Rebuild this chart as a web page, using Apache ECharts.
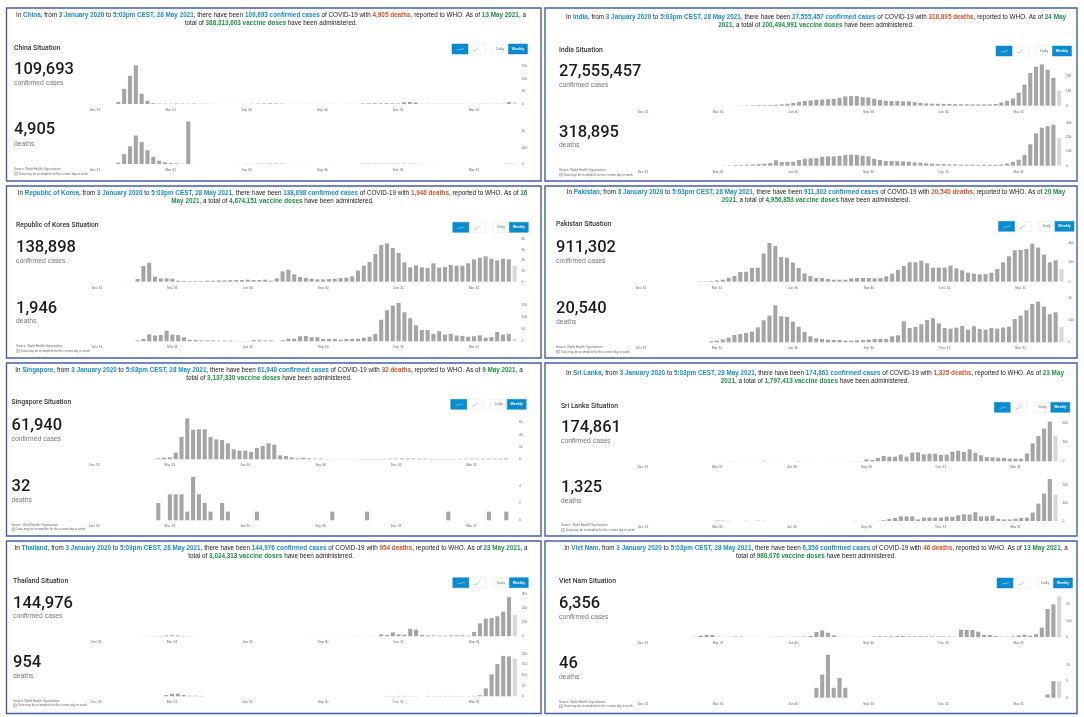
<!DOCTYPE html>
<html>
<head>
<meta charset="utf-8">
<title>COVID-19 situation by country</title>
<script src="https://cdn.jsdelivr.net/npm/echarts@6/dist/echarts.min.js"></script>
<style>
html, body { margin: 0; padding: 0; background: #fff; }
#main { width: 1084px; height: 717px; }
</style>
</head>
<body>
<div id="main"></div>
<script>
// x axis labels, one every 13 weeks
var quarterLabels = ['Dec 31', 'Mar 31', 'Jun 30', 'Sep 30', 'Dec 31', 'Mar 31'];
var weekCount = 73;

// weekly values. lists end at the last week, the weeks
// before the first entry had nothing reported
var chinaCases = [800, 6100, 11300, 15500, 4100, 1300, 300, 150, 150, 100, 200, 150, 120, 150, 100, 80, 50, 30, 20, 20, 30, 40, 50, 100, 150, 200, 250, 200, 150, 60, 50, 40, 50, 60, 50, 40, 50, 60, 50, 40, 50, 60, 200, 250, 300, 250, 300, 250, 200, 700, 800, 600, 100, 100, 90, 80, 100, 100, 90, 80, 60, 60, 80, 100, 100, 100, 120, 800, 600];
var chinaDeaths = [40, 300, 540, 870, 670, 420, 220, 100, 50, 30, 20, 10, 1300, 2, 0, 1, 0, 0, 0, 1, 1, 2, 5, 5, 8, 10, 15, 15, 10, 3, 2, 2, 2, 1, 1, 1, 1, 1, 1, 1, 1, 1, 10, 10, 10, 10, 10, 10, 10, 10, 10, 10, 2, 2, 2, 1, 1, 1, 1, 1, 1, 1, 1, 1, 1, 1, 1, 10, 15];
var indiaCases = [1000, 2000, 5000, 8000, 12000, 20000, 30000, 45000, 45000, 50000, 65000, 90000, 130000, 180000, 260000, 310000, 350000, 400000, 420000, 440000, 460000, 530000, 620000, 640000, 640000, 570000, 550000, 460000, 375000, 330000, 310000, 310000, 290000, 285000, 240000, 200000, 155000, 135000, 130000, 120000, 110000, 105000, 100000, 95000, 85000, 85000, 85000, 90000, 115000, 220000, 330000, 480000, 860000, 1410000, 2180000, 2600000, 2750000, 2400000, 1850000, 1000000];
var indiaDeaths = [120, 234, 470, 585, 700, 940, 1170, 1400, 1870, 3740, 2570, 2800, 2800, 3980, 4900, 5150, 5380, 6320, 6550, 6550, 6790, 7490, 7720, 7490, 7020, 6550, 4900, 3980, 3280, 3280, 3280, 3040, 2800, 2340, 2100, 1640, 1400, 1170, 1170, 940, 940, 700, 700, 700, 700, 700, 700, 700, 900, 1600, 2600, 4200, 7500, 15000, 22700, 26700, 27800, 28800, 19400];
var koreaCases = [10, 10, 10, 500, 2940, 3560, 940, 625, 625, 560, 190, 125, 125, 125, 125, 190, 190, 250, 250, 310, 310, 310, 375, 310, 310, 375, 190, 625, 1940, 2250, 1375, 875, 690, 560, 440, 440, 500, 560, 690, 750, 1000, 2060, 3000, 3690, 5190, 6880, 7190, 6310, 5380, 3630, 2690, 3060, 2690, 2560, 3440, 2630, 2750, 3130, 3000, 3000, 3440, 4190, 4500, 4750, 4310, 4000, 4310, 4190, 2940];
var koreaDeaths = [4, 10, 29, 24, 26, 44, 28, 26, 17, 6, 6, 4, 4, 4, 3, 3, 3, 1, 1, 1, 5, 5, 4, 4, 0, 4, 11, 11, 21, 22, 17, 17, 10, 10, 10, 7, 10, 10, 11, 15, 19, 31, 90, 129, 149, 160, 121, 96, 67, 47, 47, 31, 42, 28, 31, 24, 22, 19, 21, 25, 15, 18, 39, 28, 31, 10];
var pakistanCases = [345, 345, 690, 1380, 2070, 4140, 5870, 10000, 10350, 14150, 14500, 29000, 40000, 36900, 25500, 24800, 19700, 14150, 8600, 5870, 3800, 3800, 2760, 2070, 2070, 2070, 3450, 3800, 3800, 3800, 3450, 3800, 5500, 8300, 12100, 16200, 20000, 20000, 21700, 19000, 14500, 14500, 14500, 16600, 13800, 11700, 9300, 8300, 7600, 7900, 9300, 13100, 20000, 26200, 32400, 32800, 33800, 39300, 35200, 27900, 20000, 22100, 13100];
var pakistanDeaths = [23, 38, 68, 106, 167, 190, 212, 243, 341, 500, 606, 841, 591, 576, 470, 356, 235, 136, 91, 76, 61, 53, 53, 38, 38, 45, 53, 61, 76, 76, 76, 136, 159, 478, 326, 349, 409, 508, 546, 432, 326, 311, 334, 371, 288, 364, 303, 288, 326, 311, 334, 356, 531, 606, 728, 872, 925, 811, 637, 682, 349];
var singaporeCases = [160, 270, 320, 1080, 3620, 6640, 4800, 4860, 4860, 3620, 3240, 3130, 2590, 1620, 1400, 1400, 1190, 1840, 2160, 2590, 2380, 650, 540, 320, 160, 270, 160, 110, 110, 50, 40, 30, 30, 30, 40, 50, 50, 60, 60, 70, 100, 110, 130, 130, 140, 120, 110, 70, 50, 50, 60, 60, 70, 100, 110, 110, 110, 110, 100, 110, 140, 0];
var singaporeDeaths = [2, 0, 3, 3, 3, 1, 5, 3, 2, 1, 0, 2, 1, 0, 0, 0, 0, 1, 0, 0, 0, 0, 0, 0, 0, 0, 0, 0, 0, 0, 1, 0, 0, 0, 0, 0, 1, 0, 0, 0, 0, 0, 0, 0, 0, 0, 0, 0, 0, 0, 1, 0, 0, 0, 0, 0, 0, 1, 0, 0, 1, 0];
var sriLankaCases = [5, 10, 20, 30, 60, 50, 60, 40, 30, 40, 60, 250, 60, 40, 30, 20, 20, 150, 30, 20, 20, 20, 20, 30, 20, 30, 50, 80, 100, 1030, 690, 1700, 2750, 2400, 2400, 3440, 2400, 4470, 4640, 3600, 3960, 3960, 3270, 3440, 5000, 5500, 4800, 6200, 4300, 3100, 2200, 2060, 1900, 1700, 1400, 1400, 1400, 4000, 9300, 13200, 17000, 20600, 13400];
var sriLankaDeaths = [3, 2, 1, 0, 0, 1, 0, 2, 1, 0, 0, 0, 0, 0, 0, 0, 0, 0, 0, 0, 1, 0, 0, 0, 1, 0, 0, 0, 1, 4, 11, 17, 26, 26, 26, 9, 19, 19, 19, 19, 24, 24, 32, 37, 36, 49, 26, 26, 30, 13, 9, 9, 13, 17, 19, 47, 97, 153, 234, 146];
var thailandCases = [50, 100, 150, 300, 600, 700, 600, 300, 100, 50, 30, 20, 20, 10, 10, 10, 10, 20, 20, 20, 30, 30, 20, 20, 20, 20, 20, 30, 40, 40, 40, 40, 50, 50, 50, 60, 60, 70, 70, 80, 100, 1400, 940, 2830, 1400, 1180, 5400, 4700, 940, 700, 700, 470, 470, 700, 700, 700, 470, 3070, 9200, 12500, 13000, 14200, 17500, 27800, 15100];
var thailandDeaths = [6, 12, 12, 6, 3, 3, 2, 0, 0, 0, 0, 0, 0, 0, 0, 0, 0, 0, 0, 0, 0, 0, 0, 0, 0, 0, 0, 0, 0, 0, 0, 0, 0, 0, 0, 0, 0, 0, 2, 1, 2, 2, 1, 1, 0, 2, 1, 1, 2, 2, 1, 1, 1, 2, 5, 37, 103, 151, 189, 187, 176];
var vietnamCases = [10, 40, 60, 60, 10, 5, 5, 15, 15, 5, 5, 2, 2, 5, 8, 8, 5, 5, 10, 15, 30, 153, 204, 133, 51, 10, 5, 5, 5, 5, 5, 20, 20, 20, 20, 30, 30, 20, 20, 20, 20, 20, 20, 15, 15, 10, 224, 214, 214, 163, 61, 61, 31, 10, 10, 20, 51, 71, 41, 82, 286, 857, 1000, 1244];
var vietnamDeaths = [3, 7, 13, 3, 6, 3, 0, 0, 0, 0, 0, 0, 0, 0, 0, 0, 0, 0, 0, 0, 0, 0, 0, 0, 0, 0, 0, 0, 0, 0, 0, 0, 0, 0, 0, 0, 0, 0, 0, 0, 1, 5, 5];

// y axis: tick step and the top of the scale
var caseSteps = [5000, 1000000, 2000, 20000, 2000, 10000, 10000, 500];
var caseMax = [16000, 2800000, 8000, 40000, 6800, 21000, 30000, 1250];
var deathSteps = [500, 10000, 50, 500, 2, 100, 50, 5];
var deathMax = [1300, 30000, 160, 1000, 5, 234, 200, 13];

var names = ['China', 'India', 'Republic of Korea', 'Pakistan', 'Singapore', 'Sri Lanka', 'Thailand', 'Viet Nam'];
var caseTotals = ['109,693', '27,555,457', '138,898', '911,302', '61,940', '174,861', '144,976', '6,356'];
var deathTotals = ['4,905', '318,895', '1,946', '20,540', '32', '1,325', '954', '46'];
var doseTotals = ['388,313,603', '200,494,991', '4,674,151', '4,956,853', '3,137,330', '1,797,413', '3,024,313', '980,076'];
var doseDates = ['13 May 2021', '24 May 2021', '16 May 2021', '20 May 2021', '9 May 2021', '23 May 2021', '23 May 2021', '13 May 2021'];
// how the date falls over the line end in the sentence at the top
var dateBreaks = [3, 2, 1, 2, 3, 2, 3, 3];
var caseSeries = [chinaCases, indiaCases, koreaCases, pakistanCases, singaporeCases, sriLankaCases, thailandCases, vietnamCases];
var deathSeries = [chinaDeaths, indiaDeaths, koreaDeaths, pakistanDeaths, singaporeDeaths, sriLankaDeaths, thailandDeaths, vietnamDeaths];

// page positions of each panel, in pixels
var layout = [
    { box: [6.5, 8, 534.5, 173], x0: 95, week: 5.83, caseBase: 104, caseTop: 64, deathBase: 164, deathTop: 121.4, headX: 271, head: [15, 23], textX: 14, title: 48, num: 70, lab: 83, dnum: 130, dlab: 144, src: 169, btn: [452, 44] },
    { box: [545, 8, 532, 173], x0: 643, week: 5.78, caseBase: 105.7, caseTop: 63.7, deathBase: 165.7, deathTop: 123, headX: 816, head: [17.5, 25.5], textX: 559, title: 50, num: 72, lab: 85, dnum: 133, dlab: 145, src: 170, btn: [996, 46] },
    { box: [6.5, 186, 534.5, 172], x0: 97, week: 5.8, caseBase: 281.7, caseTop: 239, deathBase: 341.3, deathTop: 302.9, headX: 272.5, head: [193.3, 201.3], textX: 16, title: 225.7, num: 248.3, lab: 261.3, dnum: 309, dlab: 321, src: 346.3, btn: [452.8, 222.3] },
    { box: [545, 186, 532, 172], x0: 641, week: 5.84, caseBase: 281.7, caseTop: 242.9, deathBase: 342.3, deathTop: 298.3, headX: 816, head: [192.3, 200.3], textX: 556, title: 224.7, num: 247.7, lab: 260.7, dnum: 308.7, dlab: 321.7, src: 347, btn: [998.5, 221.3] },
    { box: [6.5, 363, 534.5, 173], x0: 94.5, week: 5.8, caseBase: 459.3, caseTop: 417.4, deathBase: 520.3, deathTop: 477, headX: 269, head: [370, 378], textX: 11.5, title: 402.7, num: 425.7, lab: 438.7, dnum: 486.7, dlab: 499.7, src: 524.7, btn: [450.7, 399.3] },
    { box: [545, 363, 532, 173], x0: 643, week: 5.73, caseBase: 461.3, caseTop: 420.8, deathBase: 521, deathTop: 479, headX: 815, head: [373.3, 381.3], textX: 561, title: 406, num: 428.3, lab: 441, dnum: 487.7, dlab: 501, src: 525.3, btn: [994.3, 402.3] },
    { box: [6.5, 541, 534.5, 172.5], x0: 96.5, week: 5.81, caseBase: 636.3, caseTop: 594, deathBase: 696.3, deathTop: 653.6, headX: 271, head: [548.7, 556.7], textX: 13, title: 581, num: 603.7, lab: 616.3, dnum: 663, dlab: 676, src: 700.7, btn: [452.8, 577.7] },
    { box: [545, 541, 532, 172.5], x0: 643, week: 5.78, caseBase: 637, caseTop: 596.2, deathBase: 697.7, deathTop: 654.8, headX: 816, head: [548.7, 556.7], textX: 559, title: 581.3, num: 603.7, lab: 617, dnum: 663.7, dlab: 677, src: 701.7, btn: [997, 578] }
];

var barGray = '#a5a5a5';
var barFaded = '#d8d8d8';
var blue = '#0a8bd0';
var sans = '"Liberation Sans", Arial, sans-serif';

var myChart = echarts.init(document.getElementById('main'), null, { renderer: 'canvas' });

var weeks = [];
for (var w = 0; w < weekCount; w++) {
    weeks.push('w' + w);
}

function fullWeeks(list) {
    var out = list.slice();
    while (out.length < weekCount) {
        out.unshift(0);
    }
    return out;
}

function shortNumber(v) {
    if (v >= 1000000) return v / 1000000 + 'M';
    if (v >= 1000) return v / 1000 + 'k';
    return '' + v;
}

var grids = [], xAxes = [], yAxes = [], series = [], graphics = [];

function addChart(values, step, max, left, width, top, base) {
    var idx = grids.length;
    grids.push({ left: left, top: top, width: width, height: base - top });
    xAxes.push({
        type: 'category',
        gridIndex: idx,
        data: weeks,
        axisLine: { show: false },
        axisTick: { show: false },
        axisLabel: {
            interval: 12,
            margin: 4.5,
            fontSize: 3.4,
            fontFamily: sans,
            color: '#666',
            formatter: function (v, i) { return quarterLabels[i / 13] || ''; }
        }
    });
    yAxes.push({
        type: 'value',
        gridIndex: idx,
        position: 'right',
        min: 0,
        max: max,
        interval: step,
        splitLine: { show: false },
        axisLine: { show: false },
        axisTick: { show: false },
        axisLabel: {
            margin: 4,
            fontSize: 3.4,
            fontFamily: sans,
            color: '#666',
            formatter: function (v) { return v % step === 0 ? shortNumber(v) : ''; }
        }
    });
    series.push({
        type: 'bar',
        xAxisIndex: idx,
        yAxisIndex: idx,
        barWidth: 4.1,
        silent: true,
        data: fullWeeks(values),
        itemStyle: {
            color: function (p) { return p.dataIndex === weekCount - 1 ? barFaded : barGray; }
        }
    });
}

function addText(x, y, text, size, color, weight, family) {
    graphics.push({
        type: 'text', x: x, y: y, silent: true,
        style: { text: text, fontSize: size, fill: color, fontWeight: weight || 'normal', fontFamily: family || sans, align: 'left', verticalAlign: 'middle' }
    });
}

function addHeadline(x, y, text) {
    var bold = function (c) { return { fontSize: 6.35, fontWeight: 'bold', fontFamily: sans, fill: c }; };
    graphics.push({
        type: 'text', x: x, y: y, silent: true,
        style: {
            text: text, fontSize: 6.35, fill: '#222', fontFamily: sans, align: 'center', verticalAlign: 'middle',
            rich: { a: bold('#1a8cc4'), d: bold('#d0562a'), v: bold('#1f8f45') }
        }
    });
}

function addButtons(bx, by) {
    var h = 10;
    var rects = [[bx, 16.5, blue], [bx + 16.5, 16.5, '#fff'], [bx + 40, 16.5, '#fff'], [bx + 56.5, 19, blue]];
    rects.forEach(function (r) {
        graphics.push({
            type: 'rect', silent: true,
            shape: { x: r[0], y: by, width: r[1], height: h },
            style: { fill: r[2], stroke: r[2] === '#fff' ? '#e2e2e2' : blue, lineWidth: 0.5 }
        });
    });
    graphics.push({ type: 'polyline', silent: true, shape: { points: [[bx + 5, by + 6], [bx + 8, by + 5.6], [bx + 12, by + 4.6]] }, style: { fill: 'none', stroke: '#cfe8f6', lineWidth: 0.5 } });
    graphics.push({ type: 'polyline', silent: true, shape: { points: [[bx + 21, by + 7], [bx + 24, by + 6.2], [bx + 27, by + 3.5]] }, style: { fill: 'none', stroke: '#999', lineWidth: 0.6 } });
    graphics.push({ type: 'text', silent: true, x: bx + 48.2, y: by + 5, style: { text: 'Daily', fontSize: 3.6, fill: '#666', fontFamily: sans, align: 'center', verticalAlign: 'middle' } });
    graphics.push({ type: 'text', silent: true, x: bx + 66, y: by + 5, style: { text: 'Weekly', fontSize: 3.6, fill: '#fff', fontWeight: 'bold', fontFamily: sans, align: 'center', verticalAlign: 'middle' } });
}

names.forEach(function (name, i) {
    var p = layout[i];
    var left = p.x0 - p.week / 2;
    var width = p.week * weekCount;

    graphics.push({
        type: 'rect', silent: true, z: -1,
        shape: { x: p.box[0], y: p.box[1], width: p.box[2], height: p.box[3] },
        style: { fill: '#fff', stroke: '#4560a8', lineWidth: 1.4 }
    });

    // sentence at the top, split in two lines where the date wraps
    var words = doseDates[i].split(' ');
    var cut = dateBreaks[i];
    var endFirst = words.slice(0, cut).join(' ');
    var startSecond = words.slice(cut).join(' ');
    var line1 = 'In {a|' + name + '}, from {a|3 January 2020} to {a|5:03pm CEST, 28 May 2021}, there have been {a|' + caseTotals[i] +
        ' confirmed cases} of COVID-19 with {d|' + deathTotals[i] + ' deaths}, reported to WHO. As of {v|' + endFirst + '}' +
        (startSecond ? '' : ', a');
    var line2 = (startSecond ? '{v|' + startSecond + '}, a total of ' : 'total of ') +
        '{v|' + doseTotals[i] + ' vaccine doses} have been administered.';
    addHeadline(p.headX, p.head[0], line1);
    addHeadline(p.headX, p.head[1], line2);

    addText(p.textX, p.title, name + ' Situation', 6.8, '#333', '500', 'Roboto');
    addText(p.textX, p.num, caseTotals[i], 16.5, '#1c1c1c', '500', 'Roboto');
    addText(p.textX, p.lab, 'confirmed cases', 6.8, '#777');
    addText(p.textX, p.dnum, deathTotals[i], 16.5, '#1c1c1c', '500', 'Roboto');
    addText(p.textX, p.dlab, 'deaths', 6.8, '#777');
    addText(p.textX, p.src, 'Source: World Health Organization', 3, '#666');
    addText(p.textX + 5, p.src + 4.7, 'Data may be incomplete for the current day or week', 3, '#666');
    graphics.push({
        type: 'rect', silent: true,
        shape: { x: p.textX + 0.5, y: p.src + 3.2, width: 3, height: 3 },
        style: { fill: '#ddd', stroke: '#888', lineWidth: 0.4 }
    });
    addButtons(p.btn[0], p.btn[1]);

    addChart(caseSeries[i], caseSteps[i], caseMax[i], left, width, p.caseTop, p.caseBase);
    addChart(deathSeries[i], deathSteps[i], deathMax[i], left, width, p.deathTop, p.deathBase);
});

var option = {
    animation: false,
    backgroundColor: '#fff',
    grid: grids,
    xAxis: xAxes,
    yAxis: yAxes,
    series: series,
    graphic: graphics
};

myChart.setOption(option);
</script>
</body>
</html>
